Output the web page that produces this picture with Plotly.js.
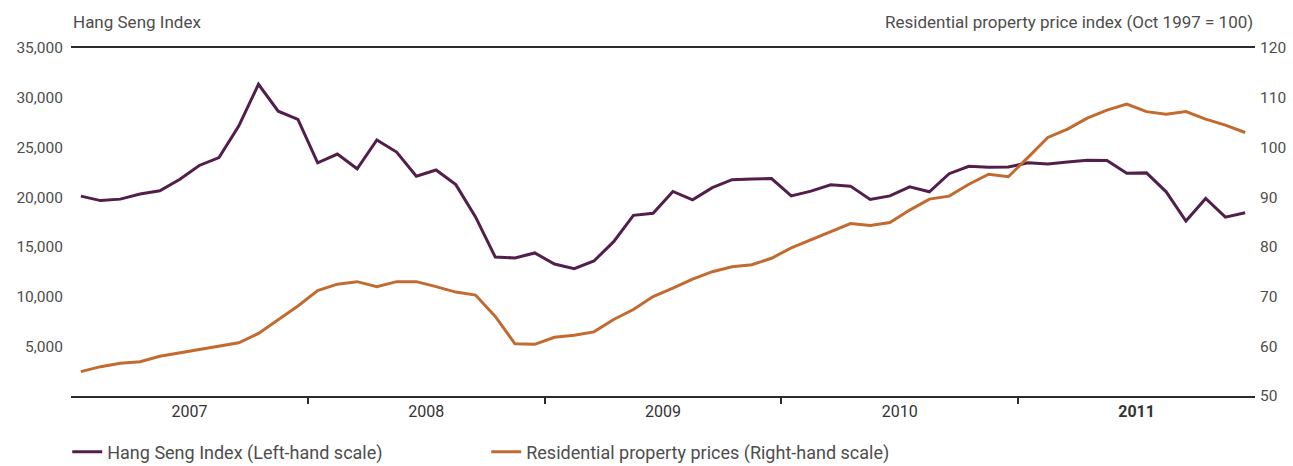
<!DOCTYPE html>
<html>
<head>
<meta charset="utf-8">
<script src="https://cdn.plot.ly/plotly-3.0.1.min.js"></script>
<style>html,body{margin:0;padding:0;background:#fff;overflow:hidden;}#chart{width:1293px;height:466px;}</style>
</head>
<body>
<div id="chart"></div>
<script>
// Monthly data, Jan 2007 - Dec 2011
const years = ['2007', '2008', '2009', '2010', '2011'];
const hangSeng = [
  20106, 19651, 19800, 20318, 20634, 21773, 23185, 23984, 27142, 31352, 28643, 27812,
  23455, 24332, 22849, 25755, 24533, 22102, 22731, 21261, 18016, 13969, 13888, 14387,
  13278, 12812, 13576, 15521, 18171, 18379, 20573, 19724, 20955, 21753, 21822, 21873,
  20122, 20609, 21239, 21108, 19765, 20129, 21030, 20536, 22358, 23096, 23008, 23035,
  23447, 23338, 23528, 23720, 23684, 22398, 22440, 20535, 17592, 19864, 17989, 18434
];
const propertyIndex = [
  54.9, 55.9, 56.6, 56.9, 58.0, 58.7, 59.4, 60.1, 60.7, 62.6, 65.4, 68.1,
  71.2, 72.5, 73.0, 72.0, 73.0, 73.0, 72.0, 70.9, 70.3, 66.0, 60.5, 60.4,
  61.8, 62.2, 62.9, 65.4, 67.4, 70.0, 71.7, 73.5, 75.0, 76.0, 76.4, 77.7,
  79.8, 81.4, 83.0, 84.7, 84.3, 84.9, 87.4, 89.6, 90.2, 92.6, 94.6, 94.1,
  98.0, 102.0, 103.7, 105.9, 107.5, 108.7, 107.2, 106.7, 107.2, 105.7, 104.5, 103.0
];
const leftTicks = [5000, 10000, 15000, 20000, 25000, 30000, 35000];
const leftTickText = ['5,000', '10,000', '15,000', '20,000', '25,000', '30,000', '35,000'];
const rightTicks = [50, 60, 70, 80, 90, 100, 110, 120];

const months = hangSeng.map((_, i) => i);
const yearBoundaries = years.slice(1).map((_, i) => (i + 1) * 12 - 0.5);
const yearCentres = years.map((_, i) => i * 12 + 5.5);
const yearText = years.map((y, i) => i === years.length - 1 ? '<b>' + y + '</b>' : y);

const PURPLE = '#521f4b';
const ORANGE = '#c26a2f';
const TXT = '#4d4d4d';
const AX = '#2b2b2b';
const FONT = 'Roboto, "Open Sans", sans-serif';

const traces = [
  {x: months, y: hangSeng, type: 'scatter', mode: 'lines', name: 'Hang Seng Index (Left-hand scale)',
   line: {color: PURPLE, width: 3}, yaxis: 'y', xaxis: 'x'},
  {x: months, y: propertyIndex, type: 'scatter', mode: 'lines', name: 'Residential property prices (Right-hand scale)',
   line: {color: ORANGE, width: 3}, yaxis: 'y2', xaxis: 'x'}
];

const layout = {
  width: 1293, height: 466,
  margin: {l: 71, r: 38, t: 48, b: 70, pad: 0},
  paper_bgcolor: '#fff', plot_bgcolor: '#fff',
  font: {family: FONT, size: 15, color: TXT},
  showlegend: true,
  legend: {orientation: 'h', xref: 'container', yref: 'container', x: 0.052, xanchor: 'left',
           y: 0.03, yanchor: 'middle',
           font: {family: FONT, size: 18, color: TXT},
           entrywidth: 374, entrywidthmode: 'pixels', traceorder: 'normal'},
  xaxis: {range: [-0.5, 59.5], tickmode: 'array', tickvals: yearBoundaries, ticktext: yearBoundaries.map(() => ''),
          ticks: 'outside', ticklen: 6, tickwidth: 2, tickcolor: AX,
          showline: true, linecolor: AX, linewidth: 2, mirror: true,
          showgrid: false, zeroline: false, fixedrange: true},
  xaxis2: {overlaying: 'x', anchor: 'y', side: 'bottom', range: [-0.5, 59.5],
           tickmode: 'array', tickvals: yearCentres, ticktext: yearText,
           ticks: '', showline: false, showgrid: false, zeroline: false,
           tickfont: {family: FONT, size: 16, color: '#333'}, ticklabelstandoff: 4},
  yaxis: {range: [0, 35000], tickmode: 'array', tickvals: leftTicks, ticktext: leftTickText,
          ticks: '', showgrid: false, zeroline: false, showline: false,
          tickfont: {family: FONT, size: 15.5, color: TXT}, ticklabelstandoff: 7},
  yaxis2: {range: [50, 120], overlaying: 'y', side: 'right', tickmode: 'array', tickvals: rightTicks,
           ticks: '', showgrid: false, zeroline: false, showline: false,
           tickfont: {family: FONT, size: 15.5, color: TXT}, ticklabelstandoff: 4},
  annotations: [
    {text: 'Hang Seng Index', xref: 'paper', yref: 'paper', x: 0, y: 1, xanchor: 'left', yanchor: 'bottom',
     yshift: 14, showarrow: false, font: {family: FONT, size: 17, color: TXT}},
    {text: 'Residential property price index (Oct 1997 = 100)', xref: 'paper', yref: 'paper', x: 1, y: 1,
     xanchor: 'right', yanchor: 'bottom', yshift: 14, showarrow: false, font: {family: FONT, size: 17, color: TXT}}
  ]
};

// invisible trace to activate the year-label axis
traces.push({x: [0], y: [0], xaxis: 'x2', yaxis: 'y', mode: 'markers', marker: {opacity: 0}, showlegend: false, hoverinfo: 'skip'});

Plotly.newPlot('chart', traces, layout, {displayModeBar: false, staticPlot: true});
</script>
</body>
</html>
